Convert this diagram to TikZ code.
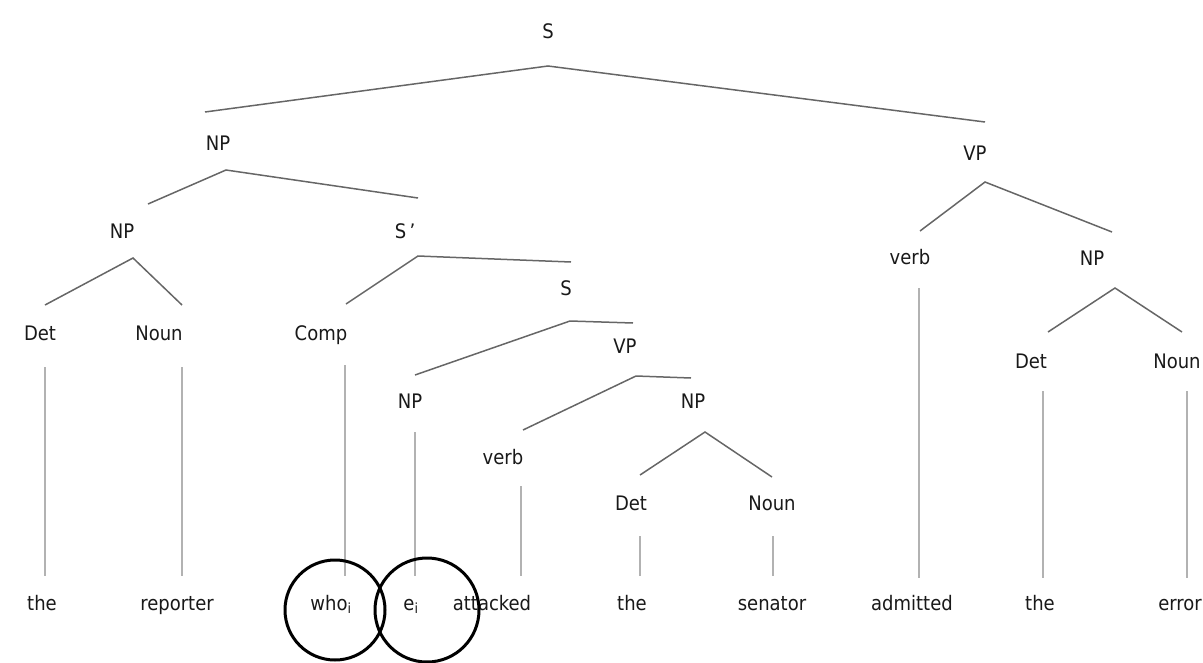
\documentclass[tikz,border=0pt]{standalone}
\usepackage{fontspec}
\setmainfont{DejaVu Sans Condensed}
\begin{document}
\begin{tikzpicture}[x=1pt,y=-1pt,
  lbl/.style={text=black!90, font=\fontsize{20}{24}\selectfont, inner sep=0pt, anchor=base},
  branch/.style={draw=black!60, line width=1.5pt},
  stem/.style={draw=black!30, line width=1.4pt},
  ring/.style={draw=black, line width=3pt}]
\useasboundingbox (0,0) rectangle (1203,662);

% category labels (placed on their baselines)
\node[lbl] (S)    at (548,38)  {S};
\node[lbl] (NPa)  at (218,150) {NP};
\node[lbl] (VPa)  at (975,160) {VP};
\node[lbl] (NPb)  at (122,238) {NP};
\node[lbl] (Sbar) at (405,238) {S\,'};
\node[lbl] (Sb)   at (566,295) {S};
\node[lbl] (VRa)  at (910,264) {verb};
\node[lbl] (NPc)  at (1092,265) {NP};
\node[lbl] (Da)   at (40,340)  {Det};
\node[lbl] (Na)   at (159,340) {Noun};
\node[lbl] (Cmp)  at (321,340) {Comp};
\node[lbl] (VPb)  at (625,353) {VP};
\node[lbl] (Dc)   at (1031,368) {Det};
\node[lbl] (Nc)   at (1177,368) {Noun};
\node[lbl] (NPd)  at (410,408) {NP};
\node[lbl] (NPe)  at (693,408) {NP};
\node[lbl] (VRb)  at (503,464) {verb};
\node[lbl] (Db)   at (631,510) {Det};
\node[lbl] (Nb)   at (772,510) {Noun};

% words
\node[lbl] (w1)  at (42,610)   {the};
\node[lbl] (w2)  at (177,610)  {reporter};
\node[lbl] (w3)  at (331,610)  {who\textsubscript{i}};
\node[lbl] (w4)  at (411,610)  {e\textsubscript{i}};
\node[lbl] (w5)  at (492,610)  {attacked};
\node[lbl] (w6)  at (632,610)  {the};
\node[lbl] (w7)  at (772,610)  {senator};
\node[lbl] (w8)  at (912,610)  {admitted};
\node[lbl] (w9)  at (1040,610) {the};
\node[lbl] (w10) at (1180,610) {error};

% branching points and branch ends
\coordinate (S-x)    at (548,66);
\coordinate (S-l)    at (205,112);
\coordinate (S-r)    at (985,122);
\coordinate (NPa-x)  at (226,170);
\coordinate (NPa-l)  at (148,204);
\coordinate (NPa-r)  at (418,198);
\coordinate (NPb-x)  at (133,258);
\coordinate (NPb-l)  at (45,305);
\coordinate (NPb-r)  at (182,305);
\coordinate (Sbar-x) at (418,256);
\coordinate (Sbar-l) at (346,304);
\coordinate (Sbar-r) at (571,262);
\coordinate (Sb-x)   at (570,321);
\coordinate (Sb-l)   at (415,375);
\coordinate (Sb-r)   at (633,323);
\coordinate (VPb-x)  at (636,376);
\coordinate (VPb-l)  at (523,430);
\coordinate (VPb-r)  at (691,378);
\coordinate (NPe-x)  at (705,432);
\coordinate (NPe-l)  at (640,475);
\coordinate (NPe-r)  at (772,477);
\coordinate (VPa-x)  at (985,182);
\coordinate (VPa-l)  at (920,231);
\coordinate (VPa-r)  at (1112,232);
\coordinate (NPc-x)  at (1115,288);
\coordinate (NPc-l)  at (1048,332);
\coordinate (NPc-r)  at (1182,332);

\draw[branch] (S-l) -- (S-x) -- (S-r);
\draw[branch] (NPa-l) -- (NPa-x) -- (NPa-r);
\draw[branch] (NPb-l) -- (NPb-x) -- (NPb-r);
\draw[branch] (Sbar-l) -- (Sbar-x) -- (Sbar-r);
\draw[branch] (Sb-l) -- (Sb-x) -- (Sb-r);
\draw[branch] (VPb-l) -- (VPb-x) -- (VPb-r);
\draw[branch] (NPe-l) -- (NPe-x) -- (NPe-r);
\draw[branch] (VPa-l) -- (VPa-x) -- (VPa-r);
\draw[branch] (NPc-l) -- (NPc-x) -- (NPc-r);

% unary stems down to the words
\coordinate (t1)  at (45,367);   \coordinate (b1)  at (45,576);
\coordinate (t2)  at (182,367);  \coordinate (b2)  at (182,576);
\coordinate (t3)  at (345,365);  \coordinate (b3)  at (345,576);
\coordinate (t4)  at (415,432);  \coordinate (b4)  at (415,576);
\coordinate (t5)  at (521,486);  \coordinate (b5)  at (521,576);
\coordinate (t6)  at (640,536);  \coordinate (b6)  at (640,576);
\coordinate (t7)  at (773,536);  \coordinate (b7)  at (773,576);
\coordinate (t8)  at (919,288);  \coordinate (b8)  at (919,578);
\coordinate (t9)  at (1043,391); \coordinate (b9)  at (1043,578);
\coordinate (t10) at (1187,391); \coordinate (b10) at (1187,578);
\foreach \i in {1,...,10} \draw[stem] (t\i) -- (b\i);

% co-indexed pair
\node[ring, circle, minimum size=100pt, inner sep=0pt] (c1) at (335,610) {};
\node[ring, circle, minimum size=104pt, inner sep=0pt] (c2) at (427,610) {};
\end{tikzpicture}
\end{document}
